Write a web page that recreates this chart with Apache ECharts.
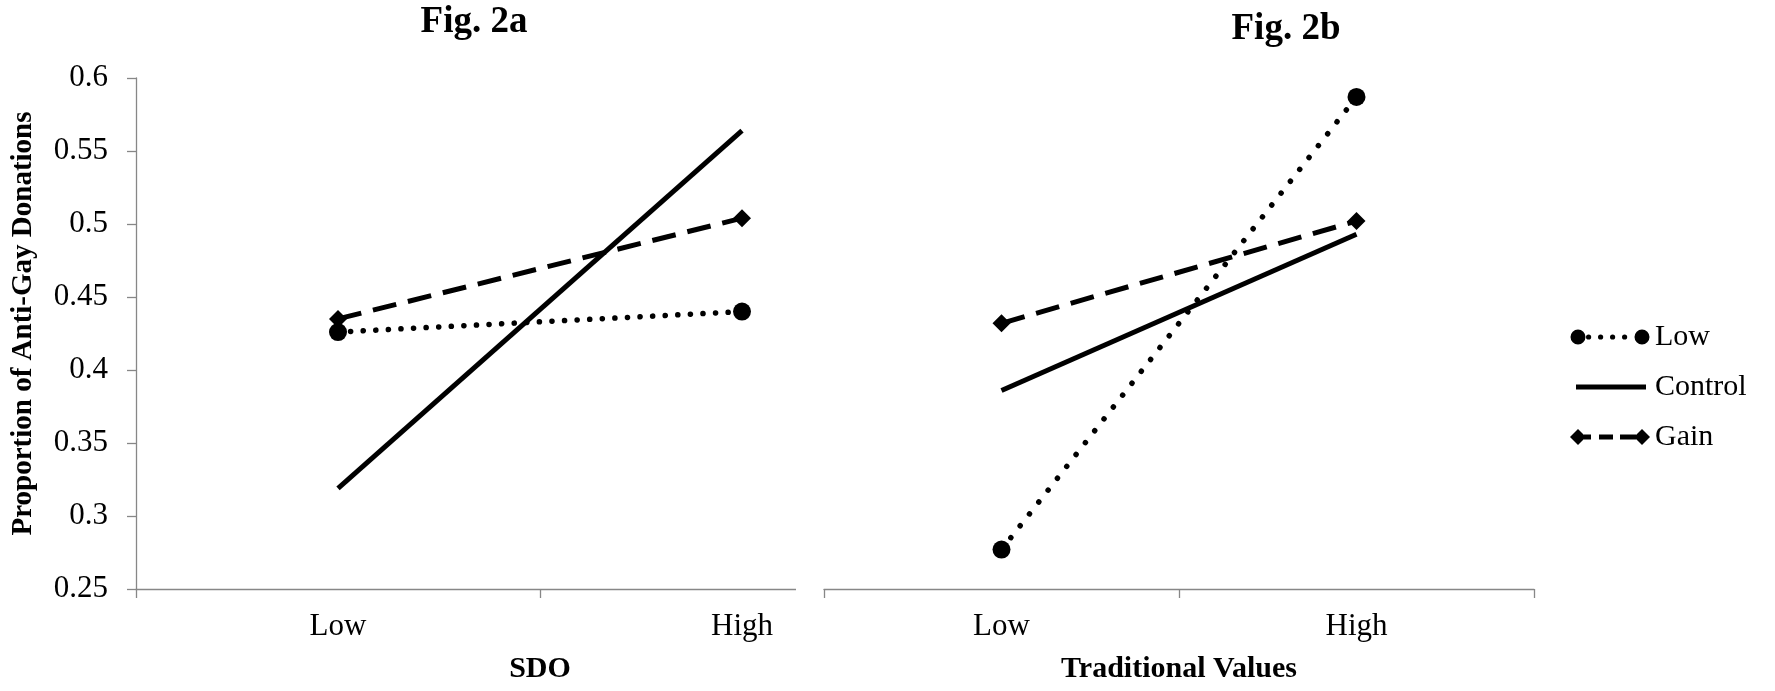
<!DOCTYPE html>
<html><head><meta charset="utf-8">
<script src="https://cdn.jsdelivr.net/npm/echarts@6/dist/echarts.min.js"></script>
<style>html,body{margin:0;padding:0;background:#fff}#c{width:1775px;height:691px}</style>
</head><body><div id="c"></div>
<script>
// ---- data ----
const categories = ['Low', 'High'];
const seriesNames = ['Low', 'Control', 'Gain'];
const sdoLow = [0.426, 0.440];
const sdoControl = [0.319, 0.564];
const sdoGain = [0.435, 0.504];
const tvLow = [0.277, 0.587];
const tvControl = [0.386, 0.493];
const tvGain = [0.432, 0.502];
const yTickLabels = ['0.25', '0.3', '0.35', '0.4', '0.45', '0.5', '0.55', '0.6'];
const yMin = 0.25, yMax = 0.6, yStep = 0.05;
const panelTitles = ['Fig. 2a', 'Fig. 2b'];
const xAxisTitles = ['SDO', 'Traditional Values'];
const yAxisTitle = 'Proportion of Anti-Gay Donations';

// ---- styling ----
const F = 'Liberation Serif';
const AX = '#878787';
const chart = echarts.init(document.getElementById('c'), null, {renderer: 'canvas'});

const iconLow = 'path://M0,0 M80,16 M0.5,8 A7.5,7.5 0 1,0 15.5,8 A7.5,7.5 0 1,0 0.5,8 Z ' +
  'M16,8 A2.6,2.6 0 1,0 21.2,8 A2.6,2.6 0 1,0 16,8 Z ' +
  'M28,8 A2.6,2.6 0 1,0 33.2,8 A2.6,2.6 0 1,0 28,8 Z ' +
  'M40,8 A2.6,2.6 0 1,0 45.2,8 A2.6,2.6 0 1,0 40,8 Z ' +
  'M52,8 A2.6,2.6 0 1,0 57.2,8 A2.6,2.6 0 1,0 52,8 Z ' +
  'M64.5,8 A7.5,7.5 0 1,0 79.5,8 A7.5,7.5 0 1,0 64.5,8 Z';
const iconControl = 'path://M0,0 M80,16 M6,5.5 L76,5.5 L76,10.5 L6,10.5 Z';
const iconGain = 'path://M0,0 M80,16 M0,8 L8,0 L16,8 L8,16 Z M14,5.5 L21,5.5 L21,10.5 L14,10.5 Z ' +
  'M29,5.5 L43,5.5 L43,10.5 L29,10.5 Z M50,5.5 L66,5.5 L66,10.5 L50,10.5 Z M64,8 L72,0 L80,8 L72,16 Z';

function mkSeries(name, data, idx, dotGap) {
  const base = {
    name: name, type: 'line', data: data,
    xAxisIndex: idx, yAxisIndex: idx,
    itemStyle: {color: '#000'},
    emphasis: {disabled: true},
    z: 3
  };
  if (name === 'Low') {
    base.symbol = 'circle'; base.symbolSize = 18;
    base.lineStyle = {color: '#000', width: 5.5, type: [0.1, dotGap], cap: 'round'};
  } else if (name === 'Control') {
    base.symbol = 'none'; base.showSymbol = false;
    base.lineStyle = {color: '#000', width: 5, type: 'solid', cap: 'butt'};
  } else {
    base.symbol = 'diamond'; base.symbolSize = [18, 18];
    base.lineStyle = {color: '#000', width: 5, type: [24, 12], cap: 'butt'};
  }
  return base;
}

const tickLabel = {fontFamily: F, fontSize: 31, color: '#000'};
const nameStyle = {fontFamily: F, fontSize: 30, fontWeight: 'bold', color: '#000'};

const option = {
  animation: false,
  backgroundColor: '#fff',
  title: [
    {text: panelTitles[0], left: 474, top: 4, textAlign: 'center', padding: 0,
     textStyle: {fontFamily: F, fontSize: 37, fontWeight: 'bold', color: '#000'}},
    {text: panelTitles[1], left: 1286, top: 11, textAlign: 'center', padding: 0,
     textStyle: {fontFamily: F, fontSize: 37, fontWeight: 'bold', color: '#000'}}
  ],
  legend: {
    orient: 'vertical', left: 1570, top: 322,
    itemWidth: 80, itemHeight: 16, itemGap: 20, padding: 0,
    selectedMode: false,
    textStyle: {fontFamily: F, fontSize: 30, lineHeight: 30, color: '#000'},
    data: [
      {name: seriesNames[0], icon: iconLow},
      {name: seriesNames[1], icon: iconControl},
      {name: seriesNames[2], icon: iconGain}
    ]
  },
  grid: [
    {left: 136, width: 808, top: 78, bottom: 102, containLabel: false, outerBoundsMode: 'none'},
    {left: 824, width: 710, top: 78, bottom: 102, containLabel: false, outerBoundsMode: 'none'}
  ],
  xAxis: [
    {type: 'category', gridIndex: 0, data: categories, boundaryGap: true, z: 0,
     axisLine: {lineStyle: {color: AX, width: 1.3}},
     axisTick: {show: true, length: 9, alignWithLabel: false, lineStyle: {color: AX, width: 1.3}},
     axisLabel: Object.assign({margin: 22, interval: 0}, tickLabel),
     name: xAxisTitles[0], nameLocation: 'middle', nameGap: 65, nameTextStyle: nameStyle,
     splitLine: {show: false}},
    {type: 'category', gridIndex: 1, data: categories, boundaryGap: true, z: 5,
     axisLine: {lineStyle: {color: AX, width: 1.3}},
     axisTick: {show: true, length: 9, lineStyle: {color: AX, width: 1.3}},
     axisLabel: Object.assign({margin: 22, interval: 0}, tickLabel),
     name: xAxisTitles[1], nameLocation: 'middle', nameGap: 65, nameTextStyle: nameStyle,
     splitLine: {show: false}}
  ],
  yAxis: [
    {type: 'value', gridIndex: 0, min: yMin, max: yMax, interval: yStep,
     axisLine: {show: true, lineStyle: {color: AX, width: 1.3}},
     axisTick: {show: true, length: 9, lineStyle: {color: AX, width: 1.3}},
     axisLabel: Object.assign({margin: 28,
       formatter: v => yTickLabels[Math.round((v - yMin) / yStep)]}, tickLabel),
     splitLine: {show: false},
     name: yAxisTitle, nameLocation: 'middle', nameRotate: 90, nameGap: 98,
     nameTextStyle: Object.assign({padding: [0, 0, 0, 20]}, nameStyle, {fontSize: 29})},
    {type: 'value', gridIndex: 1, min: yMin, max: yMax, interval: yStep, show: false,
     splitLine: {show: false}}
  ],
  graphic: [
    {type: 'rect', z: 2, zlevel: 0, shape: {x: 796, y: 582, width: 166, height: 20}, style: {fill: '#fff'}, silent: true}
  ],
  series: [
    mkSeries(seriesNames[0], sdoLow, 0, 12.5),
    mkSeries(seriesNames[1], sdoControl, 0),
    mkSeries(seriesNames[2], sdoGain, 0),
    mkSeries(seriesNames[0], tvLow, 1, 15),
    mkSeries(seriesNames[1], tvControl, 1),
    mkSeries(seriesNames[2], tvGain, 1)
  ]
};
chart.setOption(option);
</script>
</body></html>
